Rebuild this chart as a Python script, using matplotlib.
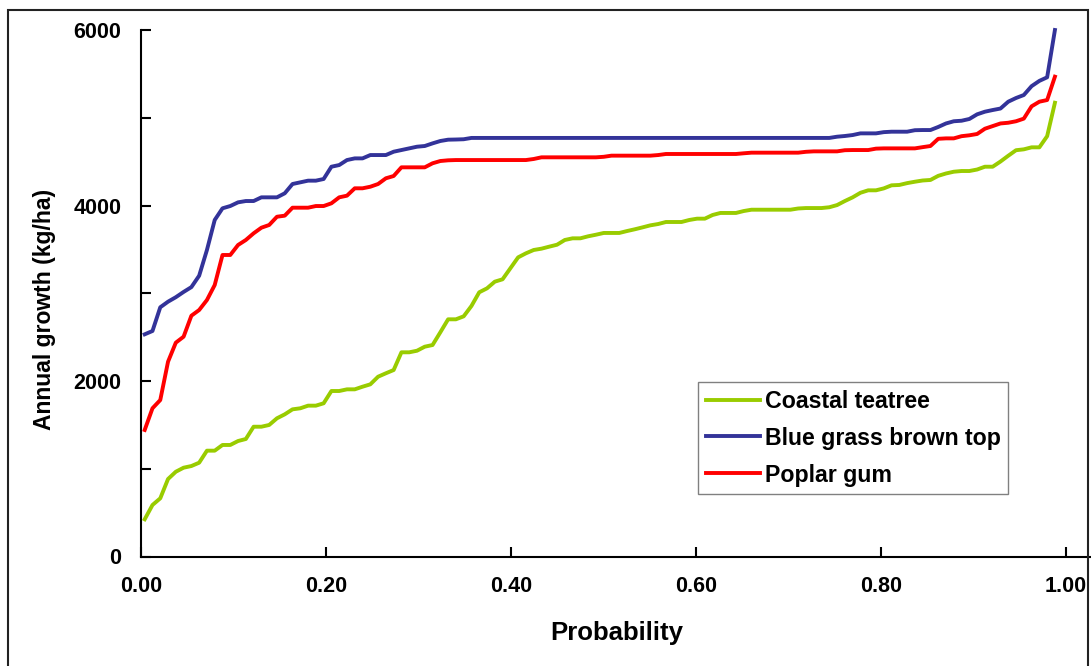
import matplotlib
matplotlib.use("Agg")
import matplotlib.pyplot as plt
import numpy as np
from matplotlib.patches import Rectangle

plt.rcParams['font.family'] = ['Liberation Sans', 'DejaVu Sans']
plt.rcParams['font.weight'] = 'bold'

labels = ["Coastal teatree", "Blue grass brown top", "Poplar gum"]
colors = ["#99cc00", "#333399", "#ff0000"]

# annual growth (kg/ha), ranked
teatree = [424, 587, 663, 883, 966, 1012, 1031, 1069, 1206, 1206,
           1271, 1271, 1316, 1339, 1479, 1479, 1499, 1575, 1620, 1677,
           1689, 1719, 1719, 1746, 1886, 1886, 1905, 1905, 1935, 1962,
           2049, 2088, 2125, 2327, 2327, 2345, 2391, 2410, 2555, 2703,
           2703, 2737, 2855, 3011, 3056, 3132, 3159, 3284, 3409, 3455,
           3493, 3508, 3531, 3553, 3607, 3626, 3626, 3649, 3667, 3687,
           3687, 3687, 3709, 3729, 3751, 3774, 3789, 3812, 3812, 3812,
           3835, 3850, 3850, 3892, 3915, 3915, 3915, 3937, 3952, 3952,
           3952, 3952, 3952, 3952, 3966, 3971, 3971, 3971, 3980, 4005,
           4051, 4093, 4145, 4173, 4173, 4195, 4230, 4234, 4255, 4271,
           4285, 4291, 4338, 4365, 4385, 4393, 4393, 4410, 4442, 4442,
           4501, 4567, 4630, 4640, 4663, 4663, 4790, 5171]

bluegrass = [2532, 2570, 2840, 2904, 2955, 3015, 3070, 3200, 3493, 3835,
             3968, 3994, 4036, 4051, 4051, 4093, 4093, 4093, 4139, 4245,
             4264, 4283, 4283, 4302, 4442, 4461, 4518, 4537, 4537, 4575,
             4575, 4575, 4613, 4632, 4651, 4670, 4678, 4708, 4735, 4750,
             4752, 4755, 4770, 4770, 4770, 4770, 4770, 4770, 4770, 4770,
             4770, 4770, 4770, 4770, 4770, 4770, 4770, 4770, 4770, 4770,
             4770, 4770, 4770, 4770, 4770, 4770, 4770, 4770, 4770, 4770,
             4770, 4770, 4770, 4770, 4770, 4770, 4770, 4770, 4770, 4770,
             4770, 4770, 4770, 4770, 4770, 4770, 4770, 4770, 4770, 4784,
             4792, 4803, 4822, 4822, 4822, 4836, 4841, 4841, 4841, 4858,
             4860, 4860, 4895, 4935, 4960, 4966, 4986, 5039, 5069, 5088,
             5105, 5183, 5225, 5259, 5360, 5420, 5461, 6000]

poplar = [1442, 1689, 1783, 2220, 2437, 2505, 2744, 2809, 2923, 3094,
          3436, 3436, 3550, 3607, 3683, 3747, 3778, 3872, 3884, 3975,
          3975, 3975, 3994, 3994, 4025, 4093, 4112, 4196, 4196, 4214,
          4245, 4310, 4336, 4435, 4435, 4435, 4435, 4481, 4507, 4515,
          4518, 4518, 4518, 4518, 4518, 4518, 4518, 4518, 4518, 4518,
          4530, 4549, 4549, 4549, 4549, 4549, 4549, 4549, 4549, 4555,
          4568, 4568, 4568, 4568, 4568, 4568, 4575, 4587, 4587, 4587,
          4587, 4587, 4587, 4587, 4587, 4587, 4587, 4595, 4602, 4602,
          4602, 4602, 4602, 4602, 4602, 4612, 4617, 4617, 4617, 4617,
          4630, 4632, 4632, 4632, 4648, 4651, 4651, 4651, 4651, 4651,
          4665, 4678, 4760, 4765, 4765, 4790, 4800, 4815, 4875, 4905,
          4935, 4943, 4960, 4990, 5130, 5183, 5202, 5468]

# plotting position of each ranked year
prob = np.linspace(0.004, 0.988, len(teatree))

W, H = 1091, 666
fig = plt.figure(figsize=(W / 100, H / 100), dpi=100)
ax = fig.add_axes([141 / W, 109.5 / H, 950 / W, 526.5 / H])

for series, lab, col in zip([teatree, bluegrass, poplar], labels, colors):
    ax.plot(prob, series, color=col, lw=2.8, label=lab, clip_on=False)

ax.set_xlim(0, 1.027)
ax.set_ylim(0, 6000)
ax.set_xticks([0, 0.2, 0.4, 0.6, 0.8, 1.0])
ax.set_xticklabels(["0.00", "0.20", "0.40", "0.60", "0.80", "1.00"])
ax.set_yticks(range(0, 6001, 1000))
ax.set_yticklabels(["0", "", "2000", "", "4000", "", "6000"])
ax.tick_params(direction='in', length=7, width=1.5, labelsize=15.5, pad=14)
ax.spines['top'].set_visible(False)
ax.spines['right'].set_visible(False)
ax.spines['left'].set_linewidth(1.5)
ax.spines['bottom'].set_linewidth(1.5)

ax.set_xlabel("Probability", fontsize=18.5, fontweight='bold')
ax.xaxis.set_label_coords(0.501, -0.123)
fig.text(45 / W, 1 - 309 / H, "Annual growth (kg/ha)", rotation=90,
         ha='center', va='center', fontsize=16.5, fontweight='bold')

leg = ax.legend(loc='upper left', bbox_to_anchor=(0.5863, 0.3314), borderaxespad=0,
                prop={'size': 16.7, 'weight': 'bold'}, fancybox=False,
                edgecolor='#808080', framealpha=1, handlelength=2.35,
                handletextpad=0.2, labelspacing=0.6, borderpad=0.33)
leg.get_frame().set_linewidth(1.0)

# chart area border
fig.patches.append(Rectangle((8 / W, -0.05), 1080 / W, 656 / H + 0.05,
                             transform=fig.transFigure, fill=False,
                             ec='#222222', lw=1.5))

fig.savefig("out.png", dpi=100)
